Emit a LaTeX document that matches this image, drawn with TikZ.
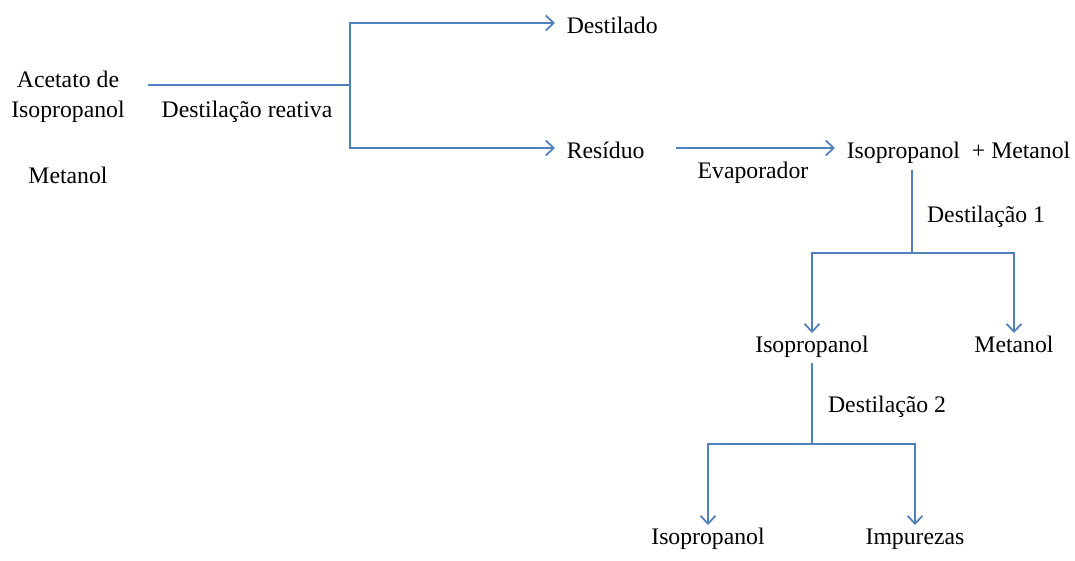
\documentclass[tikz,border=0pt]{standalone}
\usepackage{fontspec}
\setmainfont{Liberation Serif}
\usetikzlibrary{arrows.meta}
\definecolor{flowblue}{RGB}{79,129,189}

\begin{document}
\begin{tikzpicture}[x=0.02cm,y=-0.02cm,
    txt/.style={inner sep=1pt,font=\fontsize{13.5}{17}\selectfont},
    hnode/.style={txt,anchor=west,inner xsep=6.5pt,inner ysep=0pt,text height=15.5pt,text depth=3.4pt},
    vnode/.style={txt,anchor=north,inner sep=0pt,text height=11.1pt,text depth=3.4pt},
    flow/.style={draw=flowblue,line width=1pt},
    arr/.style={flow,-{Straight Barb[length=4.5pt,width=8.5pt]}}]
  \useasboundingbox (0,0) rectangle (1075,561);

  % feed side
  \node[txt,align=center] (feed) at (68,97) {Acetato de\\Isopropanol};
  \node[txt,anchor=base] (meth0) at (68,183) {Metanol};
  \coordinate (split0) at (350,85);
  \node[txt,anchor=base] (reat) at (247,117) {Destilação reativa};

  % products of reactive column
  \node[hnode] (dest) at (555,23) {Destilado};
  \node[hnode] (res) at (555,148) {Resíduo};
  \node[hnode] (ipm) at (835,148) {Isopropanol~~+ Metanol};
  \node[txt,anchor=base] (evap) at (753,178) {Evaporador};

  \draw[flow,shorten <=12pt] (feed.east |- split0) -- (split0);
  \draw[arr] (split0) |- (dest);
  \draw[arr] (split0) |- (res);
  \draw[arr,shorten <=11pt] (res) -- (ipm);

  % distillation 1
  \coordinate (d1split) at (912,253);
  \node[txt,anchor=base west] (d1lab) at (925,222) {Destilação 1};
  \node[vnode] (iso1) at (812,333) {Isopropanol};
  \node[vnode] (meth1) at (1014,333) {Metanol};

  \draw[flow,shorten <=3pt] (ipm.south -| d1split) -- (d1split);
  \draw[arr] (d1split) -| (iso1);
  \draw[arr] (d1split) -| (meth1);

  % distillation 2
  \coordinate (d2split) at (812,444);
  \node[txt,anchor=base west] (d2lab) at (826,412) {Destilação 2};
  \node[vnode] (iso2) at (708,525) {Isopropanol};
  \node[vnode] (imp) at (915,525) {Impurezas};

  \draw[flow,shorten <=2pt] (iso1) -- (d2split);
  \draw[arr] (d2split) -| (iso2);
  \draw[arr] (d2split) -| (imp);
\end{tikzpicture}
\end{document}
